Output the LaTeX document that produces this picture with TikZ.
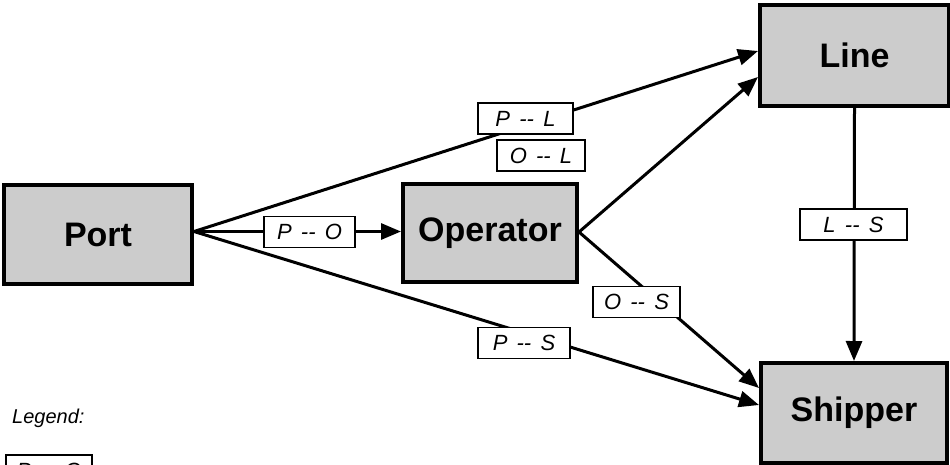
\documentclass[tikz,border=0pt]{standalone}
\usepackage{fontspec}
\setmainfont{Liberation Sans}
\usetikzlibrary{arrows.meta}

% relationship label text, e.g. \rel{P}{L}
\newcommand{\rel}[2]{\textit{#1\hspace{0.42em}{-}{-}\hspace{0.42em}#2}}

\tikzset{
  party/.style={draw=black, line width=4pt, fill=black!20, inner sep=0pt,
    font=\fontsize{34}{40}\selectfont\bfseries},
  relbox/.style={draw=black, line width=1.6pt, fill=white, inner sep=0pt,
    minimum height=31pt, font=\fontsize{22}{26}\selectfont},
  link/.style={line width=3pt, -{Triangle[length=20pt,width=16pt]}},
}

\begin{document}
\begin{tikzpicture}[x=1pt, y=-1pt]
  \useasboundingbox (0,0) rectangle (950,464);

  % the four parties
  \node[party, minimum width=188pt, minimum height=99pt]  (port)     at (98,234.5)  {Port};
  \node[party, minimum width=174pt, minimum height=98pt]  (operator) at (490,233)   {Operator};
  \node[party, minimum width=189pt, minimum height=101pt] (line)     at (854.5,55.5) {Line};
  \node[party, minimum width=186pt, minimum height=100pt] (shipper)  at (854,413)   {Shipper};

  % arrow end points on the receiving boxes
  \coordinate (portOut) at ([yshift=3pt]port.east);
  \coordinate (lineA) at ([yshift=4.5pt]line.west);
  \coordinate (lineB) at ([yshift=-21.5pt]line.west);
  \coordinate (shipA) at ([yshift=25pt]shipper.west);
  \coordinate (shipB) at ([yshift=8pt]shipper.west);
  \coordinate (opOut) at ([yshift=1pt]operator.east);

  % relationships
  \draw[link] (portOut) -- (operator.west |- portOut);
  \draw[link] (portOut) -- (lineA);
  \draw[link] (portOut) -- (shipB);
  \draw[link] (opOut) -- (lineB);
  \draw[link] (opOut) -- (shipA);
  \draw[link] (line.south) -- (shipper.north);

  % relationship labels
  \node[relbox, minimum width=91pt]  (po) at (309.5,232)  {\rel{P}{O}};
  \node[relbox, minimum width=95pt]  (pl) at (525.5,118.5) {\rel{P}{L}};
  \node[relbox, minimum width=92pt]  (ps) at (524,343)    {\rel{P}{S}};
  \node[relbox, minimum width=88pt]  (ol) at (541,155.5)  {\rel{O}{L}};
  \node[relbox, minimum width=87pt]  (os) at (636.5,302)  {\rel{O}{S}};
  \node[relbox, minimum width=107pt] (ls) at (853.5,224.5) {\rel{L}{S}};

  % legend
  \node[anchor=base west, inner sep=0pt, font=\fontsize{20}{24}\selectfont\itshape]
    (legend) at (12,423) {Legend:};
  \node[relbox, minimum width=86pt] (legbox) at (49,470.5) {\rel{P}{O}};
\end{tikzpicture}
\end{document}
